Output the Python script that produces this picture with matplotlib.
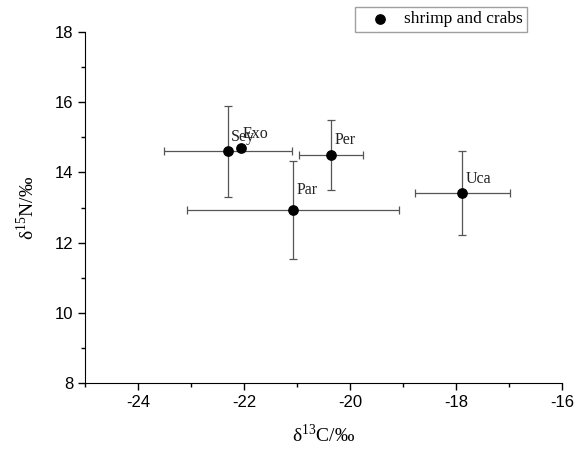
import matplotlib
matplotlib.use("Agg")
import matplotlib.pyplot as plt
from matplotlib.ticker import MultipleLocator

names = ["Sey", "Exo", "Per", "Par", "Uca"]
d13C = [-22.3, -22.05, -20.36, -21.07, -17.88]
d15N = [14.6, 14.7, 14.5, 12.93, 13.41]
xerr = [1.2, 0.0, 0.6, 2.0, 0.9]
yerr = [1.3, 0.0, 1.0, 1.4, 1.2]

plt.rcParams['axes.unicode_minus'] = False
fig = plt.figure(figsize=(5.83, 4.55), dpi=100)
ax = fig.add_axes([0.1458, 0.158, 0.818, 0.7717])

ax.errorbar(d13C, d15N, xerr=xerr, yerr=yerr, fmt='none', ecolor='#555555',
            elinewidth=0.9, capsize=3, capthick=0.9, zorder=2)
ax.scatter(d13C, d15N, s=45, color='black', zorder=3, label='shrimp and crabs')

offsets = {"Sey": (0.05, 0.3), "Exo": (0.03, 0.28), "Per": (0.07, 0.3),
           "Par": (0.07, 0.45), "Uca": (0.07, 0.3)}
for n, x, y in zip(names, d13C, d15N):
    dx, dy = offsets[n]
    ax.text(x + dx, y + dy, n, fontsize=11.5, family='Liberation Serif', color='#222222')

ax.set_xlim(-25, -16)
ax.set_ylim(8, 18)
ax.xaxis.set_major_locator(MultipleLocator(2))
ax.xaxis.set_minor_locator(MultipleLocator(1))
ax.yaxis.set_major_locator(MultipleLocator(2))
ax.yaxis.set_minor_locator(MultipleLocator(1))
ax.spines['top'].set_visible(False)
ax.spines['right'].set_visible(False)
ax.tick_params(which='major', direction='out', length=5, width=1, labelsize=12)
ax.tick_params(which='minor', direction='out', length=3, width=1)
for lab in ax.get_xticklabels() + ax.get_yticklabels():
    lab.set_family('Liberation Sans')

ax.set_xlabel(r'δ$^{\mathregular{13}}$C/‰', fontsize=14, family='Liberation Serif', labelpad=10)
ax.set_ylabel(r'δ$^{\mathregular{15}}$N/‰', fontsize=14, family='Liberation Serif', labelpad=12)

leg = fig.legend(loc='upper right', bbox_to_anchor=(527/583, 1 - 7/455),
                 prop={'family': 'Liberation Serif', 'size': 12.5},
                 frameon=True, fancybox=False, edgecolor='#888888',
                 handletextpad=0.25, borderpad=0.25, handlelength=2.3,
                 borderaxespad=0)
leg.get_frame().set_linewidth(1)

fig.savefig('out.png', dpi=100)
